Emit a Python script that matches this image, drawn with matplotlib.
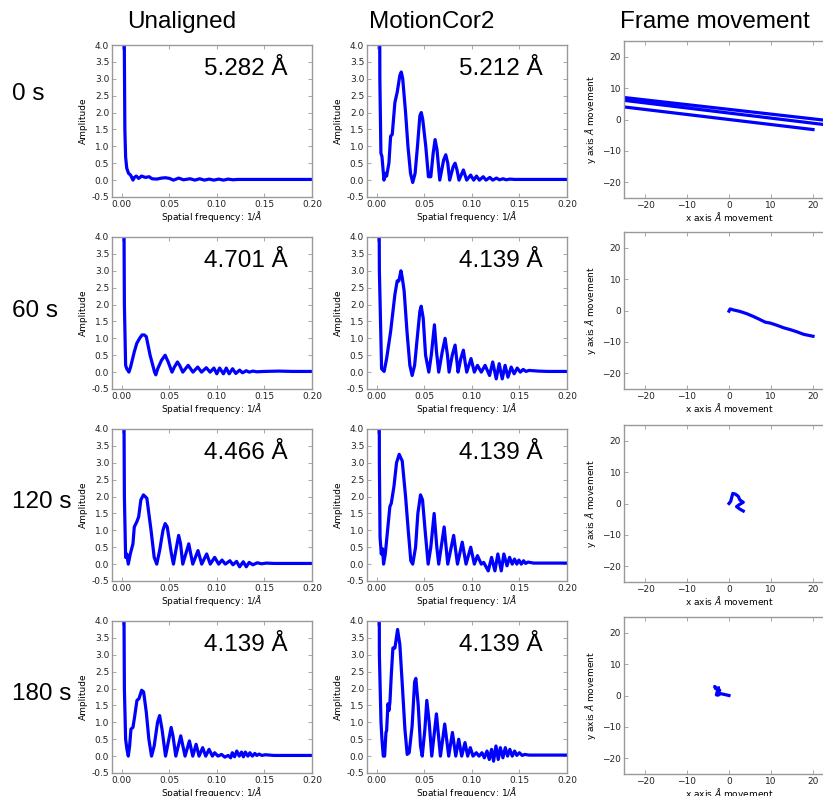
import numpy as np
import matplotlib
matplotlib.use('Agg')
import matplotlib.pyplot as plt

# Column / row labels
col_titles = ['Unaligned', 'MotionCor2', 'Frame movement']
row_labels = ['0 s', '60 s', '120 s', '180 s']
res_unaligned = ['5.282 Å', '4.701 Å', '4.466 Å', '4.139 Å']
res_motioncor = ['5.212 Å', '4.139 Å', '4.139 Å', '4.139 Å']

# (spatial frequency, amplitude)
unal_0s = [(0.002, 8.0), (0.0035, 1.5), (0.0043, 0.68), (0.0055, 0.35), (0.0074, 0.2), (0.0095, 0.15),
           (0.012, 0.0), (0.0135, 0.08), (0.0155, 0.12), (0.018, 0.05), (0.021, 0.12), (0.025, 0.08),
           (0.029, 0.1), (0.032, 0.04), (0.037, 0.03), (0.042, 0.06), (0.046, 0.07), (0.0505, 0.05),
           (0.0545, 0.0), (0.060, 0.06), (0.065, 0.01), (0.072, 0.04), (0.077, 0.0), (0.082, 0.04),
           (0.087, 0.0), (0.092, 0.03), (0.097, 0.0), (0.102, 0.03), (0.107, 0.0), (0.112, 0.03),
           (0.117, 0.01), (0.122, 0.02), (0.13, 0.02), (0.14, 0.02), (0.15, 0.02), (0.17, 0.02), (0.2, 0.02)]
mc2_0s = [(0.003, 8.0), (0.0035, 3.0), (0.0046, 0.8), (0.0057, 0.7), (0.0078, 0.0), (0.0095, 0.2),
          (0.0106, 0.12), (0.013, 0.5), (0.0148, 1.3), (0.0165, 1.35), (0.0193, 2.3), (0.0217, 2.6),
          (0.0245, 3.1), (0.026, 3.2), (0.0275, 3.0), (0.0305, 2.0), (0.033, 1.0), (0.0357, 0.2),
          (0.038, -0.07), (0.0405, 0.2), (0.043, 1.0), (0.0455, 1.9), (0.047, 2.0), (0.0485, 1.8),
          (0.0517, 1.0), (0.0545, 0.1), (0.057, 0.1), (0.0595, 0.8), (0.0615, 1.2), (0.0635, 0.9),
          (0.0664, 0.0), (0.0705, 0.6), (0.0727, 0.75), (0.0748, 0.5), (0.0768, 0.0), (0.0805, 0.4),
          (0.0825, 0.5), (0.0845, 0.3), (0.0866, 0.0), (0.0912, 0.3), (0.0947, 0.0), (0.0988, 0.15),
          (0.102, 0.0), (0.105, 0.12), (0.108, 0.0), (0.112, 0.1), (0.115, 0.0), (0.119, 0.08),
          (0.122, 0.0), (0.126, 0.06), (0.129, 0.01), (0.133, 0.04), (0.136, 0.01), (0.14, 0.03),
          (0.145, 0.02), (0.15, 0.02), (0.17, 0.02), (0.2, 0.02)]
unal_60s = [(0.002, 8.0), (0.003, 2.0), (0.0043, 0.2), (0.0055, 0.1), (0.0078, 0.0), (0.0095, 0.15),
            (0.0134, 0.6), (0.016, 0.85), (0.019, 1.0), (0.0215, 1.1), (0.024, 1.1), (0.026, 1.05),
            (0.030, 0.5), (0.0347, 0.0), (0.036, -0.08), (0.038, 0.1), (0.042, 0.35), (0.0458, 0.5),
            (0.049, 0.3), (0.053, 0.0), (0.0555, 0.15), (0.0587, 0.3), (0.061, 0.2), (0.0643, 0.0),
            (0.070, 0.2), (0.075, 0.0), (0.080, 0.15), (0.084, 0.0), (0.089, 0.13), (0.093, 0.0),
            (0.097, 0.12), (0.100, -0.05), (0.103, 0.12), (0.107, -0.05), (0.110, 0.12), (0.113, -0.05),
            (0.1166, 0.1), (0.120, -0.04), (0.124, 0.06), (0.127, -0.02), (0.131, 0.04), (0.134, 0.0),
            (0.138, 0.03), (0.142, 0.01), (0.15, 0.02), (0.165, 0.03), (0.18, 0.02), (0.2, 0.02)]
mc2_60s = [(0.0022, 8.0), (0.003, 3.0), (0.0053, 0.1), (0.007, 0.05), (0.008, 0.02), (0.0106, 0.4),
           (0.0148, 1.2), (0.0193, 2.3), (0.0217, 2.7), (0.0235, 2.7), (0.0256, 3.0), (0.027, 2.8),
           (0.029, 2.4), (0.032, 1.2), (0.035, 0.2), (0.0374, -0.1), (0.040, 0.2), (0.0427, 1.0),
           (0.0455, 1.8), (0.0469, 1.95), (0.049, 1.6), (0.0515, 0.5), (0.0549, 0.0), (0.0575, 0.5),
           (0.0608, 1.4), (0.063, 0.6), (0.0653, 0.0), (0.069, 0.6), (0.072, 1.0), (0.0745, 0.5),
           (0.0762, 0.0), (0.0795, 0.5), (0.0825, 0.8), (0.0845, 0.3), (0.0856, 0.0), (0.0885, 0.4),
           (0.0912, 0.65), (0.093, 0.3), (0.0947, 0.0), (0.0992, 0.4), (0.1027, 0.0), (0.106, 0.2),
           (0.110, 0.0), (0.114, 0.2), (0.1187, -0.1), (0.122, 0.3), (0.1257, -0.2), (0.1288, 0.25),
           (0.132, -0.2), (0.135, 0.2), (0.138, -0.15), (0.1414, 0.15), (0.1445, -0.05), (0.1477, 0.12),
           (0.151, 0.0), (0.154, 0.08), (0.157, 0.02), (0.160, 0.05), (0.17, 0.03), (0.18, 0.02), (0.2, 0.02)]
unal_120s = [(0.002, 8.0), (0.003, 2.0), (0.0043, 0.2), (0.0055, 0.3), (0.0071, 0.0), (0.0092, 0.3),
             (0.012, 0.6), (0.0134, 1.1), (0.016, 1.25), (0.018, 1.4), (0.0203, 1.9), (0.023, 2.05),
             (0.0266, 1.95), (0.031, 1.0), (0.0343, 0.2), (0.037, 0.0), (0.040, 0.4), (0.0435, 1.0),
             (0.0458, 1.2), (0.048, 1.1), (0.0524, 0.3), (0.0545, 0.0), (0.057, 0.4), (0.060, 0.85),
             (0.062, 0.6), (0.0643, 0.0), (0.0706, 0.6), (0.0748, 0.0), (0.0803, 0.4), (0.0842, 0.0),
             (0.0894, 0.3), (0.0932, 0.0), (0.0978, 0.2), (0.102, 0.0), (0.1055, 0.12), (0.109, 0.0),
             (0.1138, 0.1), (0.117, -0.02), (0.1208, 0.08), (0.124, -0.08), (0.1278, 0.07), (0.131, -0.08),
             (0.134, 0.05), (0.138, -0.02), (0.1425, 0.04), (0.147, 0.01), (0.152, 0.03), (0.16, 0.02),
             (0.18, 0.02), (0.2, 0.02)]
mc2_120s = [(0.0026, 8.0), (0.003, 3.0), (0.0037, 0.8), (0.005, 0.3), (0.0064, 0.45), (0.0074, 0.0),
            (0.0092, 0.3), (0.0116, 1.0), (0.014, 1.7), (0.0155, 1.8), (0.0183, 2.3), (0.021, 3.0),
            (0.0238, 3.25), (0.027, 3.05), (0.0305, 2.0), (0.0333, 1.0), (0.036, 0.1), (0.038, 0.0),
            (0.041, 0.5), (0.0434, 1.5), (0.0462, 2.05), (0.0483, 1.9), (0.051, 1.0), (0.0542, 0.0),
            (0.057, 0.5), (0.0605, 1.5), (0.0633, 0.5), (0.0653, 0.0), (0.071, 1.1), (0.0748, 0.0),
            (0.081, 0.85), (0.085, 0.0), (0.090, 0.65), (0.094, 0.0), (0.0989, 0.5), (0.1027, 0.0),
            (0.106, 0.25), (0.110, 0.0), (0.1125, 0.05), (0.1173, -0.2), (0.1208, 0.2), (0.1243, -0.2),
            (0.1274, 0.3), (0.131, -0.2), (0.1337, 0.3), (0.137, -0.05), (0.1397, 0.2), (0.1425, 0.0),
            (0.1449, 0.15), (0.1473, 0.0), (0.1495, 0.12), (0.152, 0.0), (0.1544, 0.1), (0.1565, 0.02),
            (0.159, 0.06), (0.165, 0.03), (0.18, 0.03), (0.2, 0.03)]
unal_180s = [(0.0019, 8.0), (0.003, 2.0), (0.0043, 0.5), (0.0057, 0.2), (0.0071, 0.0), (0.0085, 0.3),
             (0.0099, 0.8), (0.012, 0.85), (0.0134, 1.1), (0.0162, 1.65), (0.0183, 1.7), (0.0211, 1.95),
             (0.0232, 1.9), (0.026, 1.3), (0.0287, 0.5), (0.0315, 0.0), (0.0343, 0.3), (0.0378, 1.0),
             (0.040, 1.2), (0.0425, 0.8), (0.0462, 0.0), (0.0497, 0.5), (0.0521, 0.85), (0.054, 0.6),
             (0.057, 0.0), (0.0622, 0.6), (0.0667, 0.0), (0.0713, 0.45), (0.0748, 0.0), (0.0783, 0.35),
             (0.0814, 0.0), (0.0852, 0.25), (0.0884, 0.0), (0.0919, 0.2), (0.0954, 0.0), (0.0978, 0.1),
             (0.1013, 0.0), (0.105, 0.05), (0.1085, -0.03), (0.112, 0.02), (0.1146, -0.05), (0.1163, 0.1),
             (0.1187, -0.02), (0.121, 0.15), (0.1236, 0.0), (0.126, 0.12), (0.128, -0.02), (0.130, 0.12),
             (0.1327, 0.0), (0.1348, 0.1), (0.1373, 0.0), (0.140, 0.08), (0.142, 0.02), (0.1445, 0.06),
             (0.1473, 0.02), (0.151, 0.04), (0.16, 0.02), (0.18, 0.02), (0.2, 0.02)]
mc2_180s = [(0.0026, 8.0), (0.003, 3.0), (0.0047, 1.0), (0.0057, 0.5), (0.0071, 0.0), (0.0085, 0.0),
            (0.0099, 0.7), (0.0106, 0.75), (0.012, 1.55), (0.013, 1.35), (0.0141, 1.6), (0.0155, 2.4),
            (0.0172, 3.2), (0.0193, 3.2), (0.0221, 3.75), (0.0245, 3.3), (0.0273, 2.0), (0.0298, 0.8),
            (0.0322, 0.05), (0.0343, 0.1), (0.0374, 0.9), (0.040, 2.2), (0.0413, 2.3), (0.0438, 1.5),
            (0.0462, 0.3), (0.048, 0.0), (0.0508, 0.8), (0.0528, 1.65), (0.0553, 1.0), (0.058, 0.0),
            (0.0629, 1.25), (0.0671, 0.0), (0.0716, 0.95), (0.0758, 0.0), (0.0797, 0.7), (0.0832, 0.0),
            (0.0863, 0.5), (0.0894, 0.0), (0.0929, 0.4), (0.0957, 0.0), (0.0985, 0.25), (0.1013, 0.0),
            (0.1048, 0.1), (0.1076, 0.0), (0.1107, 0.1), (0.1132, -0.05), (0.116, 0.15), (0.1184, -0.1),
            (0.1208, 0.2), (0.1229, -0.15), (0.1254, 0.3), (0.1278, -0.1), (0.130, 0.25), (0.1327, -0.05),
            (0.1352, 0.25), (0.1376, 0.0), (0.140, 0.2), (0.1425, 0.0), (0.145, 0.15), (0.1473, 0.02),
            (0.150, 0.1), (0.1529, 0.02), (0.1557, 0.05), (0.16, 0.03), (0.18, 0.03), (0.2, 0.03)]

# frame drift (x, y) in Angstrom
shift_0s_x = [20, 0, -40, -40, 30, 30, -40]
shift_0s_y = [-3.2, 0.0, 6.4, 9.27, -1.31, -2.8, 8.53]
shift_60s_x = [0, 0.25, 1, 2.6, 4.2, 5.8, 7.4, 8.6, 9.8, 11.4, 13, 14.6, 16.2, 17.8, 20]
shift_60s_y = [-0.2, 0.5, 0.2, -0.3, -1, -1.9, -2.9, -3.7, -4, -4.7, -5.5, -6.1, -6.8, -7.6, -8.2]
shift_120s_x = [0, 0.4, 0.9, 1.5, 2.2, 2.6, 3.4, 2.4, 1.8, 2.6, 3.4]
shift_120s_y = [0, 0.7, 3.2, 3.0, 2.3, 1.1, 0.4, -0.4, -1.0, -1.8, -2.4]
shift_180s_x = [0, -1, -2, -2.6, -3, -2.8, -2.2, -2.9, -3.4, -3.2, -2.5]
shift_180s_y = [0, 0.3, 0.6, 0.1, 0.2, 1.2, 1.6, 2.0, 2.9, 2.2, 2.4]

unaligned = [unal_0s, unal_60s, unal_120s, unal_180s]
motioncor = [mc2_0s, mc2_60s, mc2_120s, mc2_180s]
shifts = [(shift_0s_x, shift_0s_y), (shift_60s_x, shift_60s_y),
          (shift_120s_x, shift_120s_y), (shift_180s_x, shift_180s_y)]

W, H = 823, 796
fig = plt.figure(figsize=(W / 100, H / 100), dpi=100)

big = dict(family='Liberation Sans', fontsize=17.5)
small = 6.5
frame_col = '#999999'
blue = '#0000ff'


def style(ax):
    for s in ax.spines.values():
        s.set_color(frame_col)
        s.set_linewidth(1.0)
    ax.tick_params(direction='in', top=True, right=True, length=3, width=0.6,
                   color=frame_col, labelsize=small, pad=2, labelcolor='#222222')


def px_axes(left, top, width, height):
    return fig.add_axes([left / W, 1 - (top + height) / H, width / W, height / H])


ctf_tops = [45, 237, 429, 621]
mov_tops = [41, 232, 425, 617]

for r in range(4):
    for c, (data, res) in enumerate([(unaligned[r], res_unaligned[r]), (motioncor[r], res_motioncor[r])]):
        ax = px_axes(112 if c == 0 else 367, ctf_tops[r], 200, 152)
        f, a = np.array(data).T
        ax.plot(f, a, color=blue, lw=2.3)
        ax.set_xlim(-0.01, 0.2)
        ax.set_ylim(-0.5, 4.0)
        ax.set_xticks(np.arange(0, 0.201, 0.05))
        ax.set_yticks(np.arange(-0.5, 4.01, 0.5))
        ax.xaxis.set_major_formatter(matplotlib.ticker.FormatStrFormatter('%.2f'))
        ax.yaxis.set_major_formatter(matplotlib.ticker.FormatStrFormatter('%.1f'))
        ax.set_xlabel('Spatial frequency: 1/$\\AA$', fontsize=small, labelpad=0.5)
        ax.set_ylabel('Amplitude', fontsize=small, labelpad=3)
        ax.text(0.46, 0.80, res, transform=ax.transAxes, ha='left', va='baseline', **big)
        style(ax)

    ax = px_axes(624, mov_tops[r], 210, 157)
    sx, sy = shifts[r]
    ax.plot(sx, sy, color=blue, lw=2.3)
    ax.set_xlim(-25, 25)
    ax.set_ylim(-25, 25)
    ax.set_xticks([-20, -10, 0, 10, 20])
    ax.set_yticks([-20, -10, 0, 10, 20])
    ax.set_xlabel('x axis $\\AA$ movement', fontsize=small, labelpad=0.5)
    ax.set_ylabel('y axis $\\AA$ movement', fontsize=small, labelpad=3)
    style(ax)

# column titles
for x, t in zip([182, 432, 715], col_titles):
    fig.text(x / W, 1 - 22 / H, t, ha='center', va='center', **big)

# row labels
for y, t in zip([94, 311, 502, 694], row_labels):
    fig.text(12 / W, 1 - y / H, t, ha='left', va='center', **big)

fig.savefig('out.png', dpi=100)
